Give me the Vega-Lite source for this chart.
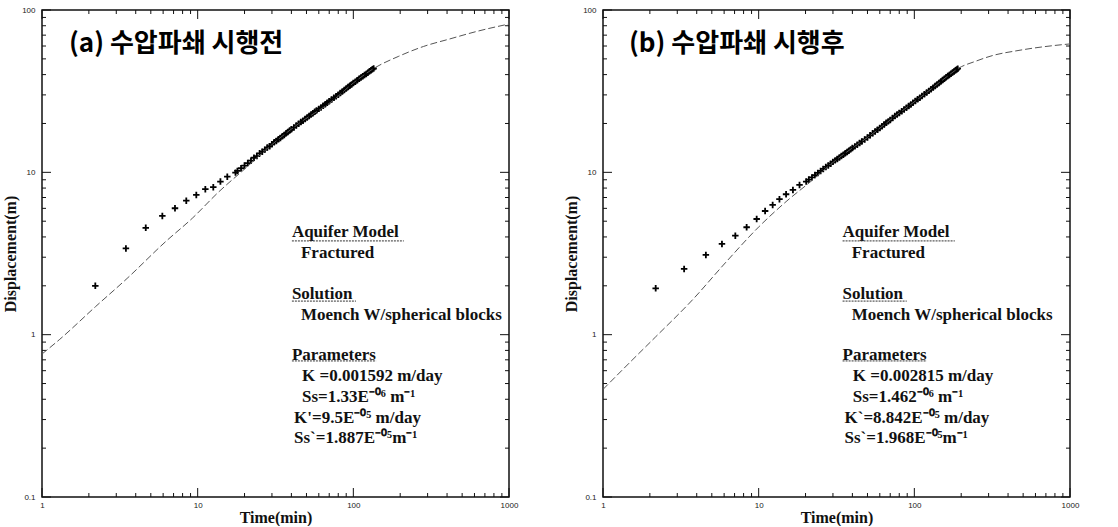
{
  "$schema": "https://vega.github.io/schema/vega-lite/v6.json",
  "background": "white",
  "padding": {"left": 1, "top": 5, "right": 5, "bottom": 0},
  "spacing": 43,
  "datasets": {
    "ticksX": [
      {"v": 1, "kind": "major"}, {"v": 2, "kind": "minor"}, {"v": 3, "kind": "minor"}, {"v": 4, "kind": "minor"}, {"v": 5, "kind": "minor"}, {"v": 6, "kind": "minor"}, {"v": 7, "kind": "minor"}, {"v": 8, "kind": "minor"}, {"v": 9, "kind": "minor"},
      {"v": 10, "kind": "major"}, {"v": 20, "kind": "minor"}, {"v": 30, "kind": "minor"}, {"v": 40, "kind": "minor"}, {"v": 50, "kind": "minor"}, {"v": 60, "kind": "minor"}, {"v": 70, "kind": "minor"}, {"v": 80, "kind": "minor"}, {"v": 90, "kind": "minor"},
      {"v": 100, "kind": "major"}, {"v": 200, "kind": "minor"}, {"v": 300, "kind": "minor"}, {"v": 400, "kind": "minor"}, {"v": 500, "kind": "minor"}, {"v": 600, "kind": "minor"}, {"v": 700, "kind": "minor"}, {"v": 800, "kind": "minor"}, {"v": 900, "kind": "minor"},
      {"v": 1000, "kind": "major"}
    ],
    "ticksY": [
      {"v": 0.1, "kind": "major"}, {"v": 0.2, "kind": "minor"}, {"v": 0.3, "kind": "minor"}, {"v": 0.4, "kind": "minor"}, {"v": 0.5, "kind": "minor"}, {"v": 0.6, "kind": "minor"}, {"v": 0.7, "kind": "minor"}, {"v": 0.8, "kind": "minor"}, {"v": 0.9, "kind": "minor"},
      {"v": 1, "kind": "major"}, {"v": 2, "kind": "minor"}, {"v": 3, "kind": "minor"}, {"v": 4, "kind": "minor"}, {"v": 5, "kind": "minor"}, {"v": 6, "kind": "minor"}, {"v": 7, "kind": "minor"}, {"v": 8, "kind": "minor"}, {"v": 9, "kind": "minor"},
      {"v": 10, "kind": "major"}, {"v": 20, "kind": "minor"}, {"v": 30, "kind": "minor"}, {"v": 40, "kind": "minor"}, {"v": 50, "kind": "minor"}, {"v": 60, "kind": "minor"}, {"v": 70, "kind": "minor"}, {"v": 80, "kind": "minor"}, {"v": 90, "kind": "minor"},
      {"v": 100, "kind": "major"}
    ],
    "curveA": [
      {"t": 1, "d": 0.76}, {"t": 1.29, "d": 0.93}, {"t": 2.21, "d": 1.49}, {"t": 3.52, "d": 2.22},
      {"t": 6.22, "d": 3.74}, {"t": 9.23, "d": 5.21}, {"t": 13.7, "d": 7.6}, {"t": 20.3, "d": 10.6},
      {"t": 28.2, "d": 14.1}, {"t": 44.7, "d": 20.0}, {"t": 73.3, "d": 27.5}, {"t": 100, "d": 35.5},
      {"t": 135, "d": 43.6}, {"t": 196, "d": 51.9}, {"t": 282, "d": 59.6}, {"t": 411, "d": 66.1},
      {"t": 631, "d": 74.1}, {"t": 1000, "d": 82}
    ],
    "pointsA": [
      {"t": 2.2, "d": 2.0}, {"t": 3.46, "d": 3.4}, {"t": 4.64, "d": 4.55}, {"t": 5.93, "d": 5.39},
      {"t": 7.15, "d": 6.01}, {"t": 8.45, "d": 6.69}, {"t": 9.8, "d": 7.26}, {"t": 11.2, "d": 7.87},
      {"t": 12.6, "d": 8.1}, {"t": 14.0, "d": 8.77}, {"t": 15.5, "d": 9.4}, {"t": 17.5, "d": 9.96},
      {"t": 18, "d": 10.2}, {"t": 19, "d": 10.6}, {"t": 20, "d": 11.0}, {"t": 21, "d": 11.4},
      {"t": 22, "d": 11.8}, {"t": 23, "d": 12.3}, {"t": 24, "d": 12.6}, {"t": 25, "d": 13.1},
      {"t": 26, "d": 13.4}, {"t": 27, "d": 13.8}, {"t": 28, "d": 14.2}, {"t": 29, "d": 14.5}, {"t": 30, "d": 14.9},
      {"t": 31, "d": 15.3}, {"t": 32, "d": 15.6}, {"t": 33, "d": 16.0}, {"t": 34, "d": 16.3}, {"t": 35, "d": 16.7}, {"t": 36, "d": 17.0},
      {"t": 37, "d": 17.4}, {"t": 38, "d": 17.7}, {"t": 39, "d": 18.1},
      {"t": 40, "d": 18.4}, {"t": 41.5, "d": 18.9}, {"t": 43, "d": 19.4}, {"t": 44.5, "d": 19.9}, {"t": 46, "d": 20.4}, {"t": 47.5, "d": 20.8}, {"t": 49, "d": 21.3},
      {"t": 50.5, "d": 21.8}, {"t": 52, "d": 22.2}, {"t": 53.5, "d": 22.7}, {"t": 55, "d": 23.1}, {"t": 56.5, "d": 23.6}, {"t": 58, "d": 24.0}, {"t": 60, "d": 24.6}, {"t": 62, "d": 25.1},
      {"t": 64, "d": 25.7}, {"t": 66, "d": 26.3}, {"t": 68, "d": 26.8}, {"t": 70, "d": 27.4}, {"t": 72.5, "d": 28.1}, {"t": 75, "d": 28.8}, {"t": 77.5, "d": 29.4}, {"t": 80, "d": 30.1},
      {"t": 82.5, "d": 30.8}, {"t": 85, "d": 31.5}, {"t": 87.5, "d": 32.1}, {"t": 90, "d": 32.8}, {"t": 92.5, "d": 33.5}, {"t": 95, "d": 34.2}, {"t": 97.5, "d": 34.8}, {"t": 100, "d": 35.5},
      {"t": 103, "d": 36.2}, {"t": 106, "d": 36.9}, {"t": 109, "d": 37.7}, {"t": 112, "d": 38.4}, {"t": 115, "d": 39.1}, {"t": 118, "d": 39.8}, {"t": 121, "d": 40.4}, {"t": 124, "d": 41.1},
      {"t": 127, "d": 41.9}, {"t": 130, "d": 42.6}, {"t": 132.5, "d": 43.1}, {"t": 135, "d": 43.6}
    ],
    "curveB": [
      {"t": 1, "d": 0.46}, {"t": 1.5, "d": 0.68}, {"t": 2.18, "d": 0.97}, {"t": 3.76, "d": 1.64},
      {"t": 6.17, "d": 2.8}, {"t": 10.1, "d": 4.65}, {"t": 15, "d": 6.6}, {"t": 22.3, "d": 9.0},
      {"t": 30, "d": 11.5}, {"t": 40.3, "d": 14.2}, {"t": 50, "d": 16.4}, {"t": 80, "d": 23.2},
      {"t": 120, "d": 31.0}, {"t": 160, "d": 38.5}, {"t": 190, "d": 43.5}, {"t": 250, "d": 48.5},
      {"t": 320, "d": 52.5}, {"t": 450, "d": 56.0}, {"t": 579, "d": 58.2}, {"t": 800, "d": 60.5},
      {"t": 1000, "d": 61.8}
    ],
    "pointsB": [
      {"t": 2.18, "d": 1.93}, {"t": 3.32, "d": 2.54}, {"t": 4.58, "d": 3.1}, {"t": 5.81, "d": 3.62},
      {"t": 7.08, "d": 4.07}, {"t": 8.37, "d": 4.59}, {"t": 9.71, "d": 5.16}, {"t": 11.0, "d": 5.78},
      {"t": 12.3, "d": 6.3}, {"t": 13.6, "d": 6.83}, {"t": 15.0, "d": 7.33}, {"t": 16.6, "d": 7.79},
      {"t": 18.3, "d": 8.36}, {"t": 20.2, "d": 8.77}, {"t": 21, "d": 9.02}, {"t": 22, "d": 9.31},
      {"t": 23, "d": 9.62}, {"t": 24, "d": 9.91}, {"t": 25, "d": 10.2}, {"t": 26, "d": 10.5},
      {"t": 27, "d": 10.8}, {"t": 28, "d": 11.0}, {"t": 29, "d": 11.3}, {"t": 30, "d": 11.6}, {"t": 31, "d": 11.85}, {"t": 32, "d": 12.1},
      {"t": 33, "d": 12.35}, {"t": 34, "d": 12.6}, {"t": 35, "d": 12.85}, {"t": 36, "d": 13.1}, {"t": 37, "d": 13.35}, {"t": 38, "d": 13.6}, {"t": 39, "d": 13.85}, {"t": 40, "d": 14.1},
      {"t": 41.5, "d": 14.45}, {"t": 43, "d": 14.8}, {"t": 44.5, "d": 15.15}, {"t": 46, "d": 15.5}, {"t": 48, "d": 15.95}, {"t": 50, "d": 16.4}, {"t": 52, "d": 16.9}, {"t": 54, "d": 17.4},
      {"t": 56, "d": 17.85}, {"t": 58, "d": 18.3}, {"t": 60, "d": 18.75}, {"t": 62, "d": 19.2}, {"t": 64, "d": 19.7}, {"t": 66, "d": 20.2}, {"t": 68, "d": 20.6}, {"t": 70, "d": 21.0},
      {"t": 72.5, "d": 21.6}, {"t": 75, "d": 22.2}, {"t": 77.5, "d": 22.7}, {"t": 80, "d": 23.2}, {"t": 83, "d": 23.8}, {"t": 86, "d": 24.4}, {"t": 89, "d": 25.0}, {"t": 92, "d": 25.6},
      {"t": 95, "d": 26.2}, {"t": 98, "d": 26.8}, {"t": 101.5, "d": 27.5}, {"t": 105, "d": 28.2}, {"t": 108.5, "d": 28.85}, {"t": 112, "d": 29.5}, {"t": 116, "d": 30.25}, {"t": 120, "d": 31.0},
      {"t": 124, "d": 31.75}, {"t": 128, "d": 32.5}, {"t": 132, "d": 33.25}, {"t": 136, "d": 34.0}, {"t": 140, "d": 34.75}, {"t": 144, "d": 35.5}, {"t": 148, "d": 36.25}, {"t": 152, "d": 37.0},
      {"t": 156, "d": 37.75}, {"t": 160, "d": 38.5}, {"t": 164, "d": 39.15}, {"t": 168, "d": 39.8}, {"t": 172, "d": 40.5}, {"t": 176, "d": 41.2}, {"t": 180, "d": 41.85}, {"t": 184, "d": 42.5},
      {"t": 187, "d": 43.0}, {"t": 190, "d": 43.5}
    ],
    "notesA": [
      {"t": 40.3, "d": 4.29, "label": "Aquifer Model"},
      {"t": 46.1, "d": 3.19, "label": "Fractured"},
      {"t": 40.3, "d": 1.78, "label": "Solution"},
      {"t": 46.1, "d": 1.32, "label": "Moench W/spherical blocks"},
      {"t": 40.3, "d": 0.75, "label": "Parameters"},
      {"t": 46.8, "d": 0.557, "label": "K =0.001592 m/day"},
      {"t": 46.8, "d": 0.413, "label": "Ss=1.33E⁻⁰⁶ m⁻¹"},
      {"t": 41.6, "d": 0.307, "label": "K'=9.5E⁻⁰⁵ m/day"},
      {"t": 41.6, "d": 0.231, "label": "Ss`=1.887E⁻⁰⁵m⁻¹"}
    ],
    "notesB": [
      {"t": 34.6, "d": 4.29, "label": "Aquifer Model"},
      {"t": 39.6, "d": 3.19, "label": "Fractured"},
      {"t": 34.6, "d": 1.78, "label": "Solution"},
      {"t": 39.6, "d": 1.32, "label": "Moench W/spherical blocks"},
      {"t": 34.6, "d": 0.75, "label": "Parameters"},
      {"t": 40.2, "d": 0.557, "label": "K =0.002815 m/day"},
      {"t": 40.2, "d": 0.413, "label": "Ss=1.462⁻⁰⁶ m⁻¹"},
      {"t": 35.6, "d": 0.307, "label": "K`=8.842E⁻⁰⁵ m/day"},
      {"t": 35.6, "d": 0.231, "label": "Ss`=1.968E⁻⁰⁵m⁻¹"}
    ],
    "underA": [
      {"t": 40.3, "t2": 211, "d": 3.78},
      {"t": 40.3, "t2": 104, "d": 1.61},
      {"t": 40.3, "t2": 140, "d": 0.689}
    ],
    "underB": [
      {"t": 34.6, "t2": 182, "d": 3.78},
      {"t": 34.6, "t2": 89.4, "d": 1.61},
      {"t": 34.6, "t2": 120, "d": 0.689}
    ],
    "headA": [{"t": 1.49, "d": 61.8, "label": "(a) 수압파쇄 시행전"}],
    "headB": [{"t": 1.47, "d": 61.8, "label": "(b) 수압파쇄 시행후"}]
  },
  "hconcat": [
    {
      "width": 467,
      "height": 487,
      "resolve": {"axis": {"x": "independent", "y": "independent"}},
      "layer": [
        {
          "data": {"name": "pointsA"},
          "mark": {"type": "point", "shape": "M-1,0L1,0M0,-1L0,1", "filled": false, "stroke": "#000", "strokeWidth": 1.8, "size": 42, "opacity": 1},
          "encoding": {
            "x": {"field": "t", "type": "quantitative", "scale": {"type": "log", "domain": [1, 1000], "nice": false},
              "axis": {"orient": "bottom", "values": [1, 10, 100, 1000], "ticks": false, "format": "~g", "labelPadding": 4, "labelFlush": false, "labelOverlap": false, "title": "Time(min)", "titlePadding": 0}},
            "y": {"field": "d", "type": "quantitative", "scale": {"type": "log", "domain": [0.1, 100], "nice": false},
              "axis": {"orient": "left", "values": [0.1, 1, 10, 100], "ticks": false, "format": "~g", "labelPadding": 7, "labelOverlap": false, "title": "Displacement(m)", "titlePadding": 3}}
          }
        },
        {"data": {"name": "ticksX"}, "transform": [{"filter": "datum.kind == 'minor'"}],
         "mark": {"type": "tick", "orient": "vertical", "size": 4, "thickness": 1, "color": "#111", "opacity": 1, "yOffset": -2},
         "encoding": {"x": {"field": "v", "type": "quantitative", "axis": null}, "y": {"datum": 0.1, "type": "quantitative", "axis": null}}},
        {"data": {"name": "ticksX"}, "transform": [{"filter": "datum.kind == 'major'"}],
         "mark": {"type": "tick", "orient": "vertical", "size": 9, "thickness": 1, "color": "#111", "opacity": 1, "yOffset": -4.5},
         "encoding": {"x": {"field": "v", "type": "quantitative", "axis": null}, "y": {"datum": 0.1, "type": "quantitative", "axis": null}}},
        {"data": {"name": "ticksX"}, "transform": [{"filter": "datum.kind == 'minor'"}],
         "mark": {"type": "tick", "orient": "vertical", "size": 4, "thickness": 1, "color": "#111", "opacity": 1, "yOffset": 2},
         "encoding": {"x": {"field": "v", "type": "quantitative", "axis": null}, "y": {"datum": 100, "type": "quantitative", "axis": null}}},
        {"data": {"name": "ticksX"}, "transform": [{"filter": "datum.kind == 'major'"}],
         "mark": {"type": "tick", "orient": "vertical", "size": 9, "thickness": 1, "color": "#111", "opacity": 1, "yOffset": 4.5},
         "encoding": {"x": {"field": "v", "type": "quantitative", "axis": null}, "y": {"datum": 100, "type": "quantitative", "axis": null}}},
        {"data": {"name": "ticksY"}, "transform": [{"filter": "datum.kind == 'minor'"}],
         "mark": {"type": "tick", "orient": "horizontal", "size": 4, "thickness": 1, "color": "#111", "opacity": 1, "xOffset": 2},
         "encoding": {"y": {"field": "v", "type": "quantitative", "axis": null}, "x": {"datum": 1, "type": "quantitative", "axis": null}}},
        {"data": {"name": "ticksY"}, "transform": [{"filter": "datum.kind == 'major'"}],
         "mark": {"type": "tick", "orient": "horizontal", "size": 9, "thickness": 1, "color": "#111", "opacity": 1, "xOffset": 4.5},
         "encoding": {"y": {"field": "v", "type": "quantitative", "axis": null}, "x": {"datum": 1, "type": "quantitative", "axis": null}}},
        {"data": {"name": "ticksY"}, "transform": [{"filter": "datum.kind == 'minor'"}],
         "mark": {"type": "tick", "orient": "horizontal", "size": 4, "thickness": 1, "color": "#111", "opacity": 1, "xOffset": -2},
         "encoding": {"y": {"field": "v", "type": "quantitative", "axis": null}, "x": {"datum": 1000, "type": "quantitative", "axis": null}}},
        {"data": {"name": "ticksY"}, "transform": [{"filter": "datum.kind == 'major'"}],
         "mark": {"type": "tick", "orient": "horizontal", "size": 9, "thickness": 1, "color": "#111", "opacity": 1, "xOffset": -4.5},
         "encoding": {"y": {"field": "v", "type": "quantitative", "axis": null}, "x": {"datum": 1000, "type": "quantitative", "axis": null}}},
        {
          "data": {"name": "curveA"},
          "mark": {"type": "line", "color": "#555", "strokeWidth": 1, "strokeDash": [7, 3], "interpolate": "monotone"},
          "encoding": {
            "x": {"field": "t", "type": "quantitative", "axis": null},
            "y": {"field": "d", "type": "quantitative", "axis": null}
          }
        },
        {
          "data": {"name": "notesA"},
          "mark": {"type": "text", "align": "left", "baseline": "middle", "font": "Liberation Serif", "fontSize": 17, "fontWeight": "bold", "color": "#111"},
          "encoding": {
            "x": {"field": "t", "type": "quantitative", "axis": null},
            "y": {"field": "d", "type": "quantitative", "axis": null},
            "text": {"field": "label", "type": "nominal"}
          }
        },
        {
          "data": {"name": "underA"},
          "mark": {"type": "rule", "color": "#333", "strokeWidth": 1, "strokeDash": [2, 1]},
          "encoding": {
            "x": {"field": "t", "type": "quantitative", "axis": null},
            "x2": {"field": "t2"},
            "y": {"field": "d", "type": "quantitative", "axis": null}
          }
        },
        {
          "data": {"name": "headA"},
          "mark": {"type": "text", "align": "left", "baseline": "middle", "font": "Noto Sans CJK KR", "fontSize": 26, "fontWeight": "bold", "color": "#000"},
          "encoding": {
            "x": {"field": "t", "type": "quantitative", "axis": null},
            "y": {"field": "d", "type": "quantitative", "axis": null},
            "text": {"field": "label", "type": "nominal"}
          }
        }
      ]
    },
    {
      "width": 467,
      "height": 487,
      "resolve": {"axis": {"x": "independent", "y": "independent"}},
      "layer": [
        {
          "data": {"name": "pointsB"},
          "mark": {"type": "point", "shape": "M-1,0L1,0M0,-1L0,1", "filled": false, "stroke": "#000", "strokeWidth": 1.8, "size": 42, "opacity": 1},
          "encoding": {
            "x": {"field": "t", "type": "quantitative", "scale": {"type": "log", "domain": [1, 1000], "nice": false},
              "axis": {"orient": "bottom", "values": [1, 10, 100, 1000], "ticks": false, "format": "~g", "labelPadding": 4, "labelFlush": false, "labelOverlap": false, "title": "Time(min)", "titlePadding": 0}},
            "y": {"field": "d", "type": "quantitative", "scale": {"type": "log", "domain": [0.1, 100], "nice": false},
              "axis": {"orient": "left", "values": [0.1, 1, 10, 100], "ticks": false, "format": "~g", "labelPadding": 7, "labelOverlap": false, "title": "Displacement(m)", "titlePadding": 3}}
          }
        },
        {"data": {"name": "ticksX"}, "transform": [{"filter": "datum.kind == 'minor'"}],
         "mark": {"type": "tick", "orient": "vertical", "size": 4, "thickness": 1, "color": "#111", "opacity": 1, "yOffset": -2},
         "encoding": {"x": {"field": "v", "type": "quantitative", "axis": null}, "y": {"datum": 0.1, "type": "quantitative", "axis": null}}},
        {"data": {"name": "ticksX"}, "transform": [{"filter": "datum.kind == 'major'"}],
         "mark": {"type": "tick", "orient": "vertical", "size": 9, "thickness": 1, "color": "#111", "opacity": 1, "yOffset": -4.5},
         "encoding": {"x": {"field": "v", "type": "quantitative", "axis": null}, "y": {"datum": 0.1, "type": "quantitative", "axis": null}}},
        {"data": {"name": "ticksX"}, "transform": [{"filter": "datum.kind == 'minor'"}],
         "mark": {"type": "tick", "orient": "vertical", "size": 4, "thickness": 1, "color": "#111", "opacity": 1, "yOffset": 2},
         "encoding": {"x": {"field": "v", "type": "quantitative", "axis": null}, "y": {"datum": 100, "type": "quantitative", "axis": null}}},
        {"data": {"name": "ticksX"}, "transform": [{"filter": "datum.kind == 'major'"}],
         "mark": {"type": "tick", "orient": "vertical", "size": 9, "thickness": 1, "color": "#111", "opacity": 1, "yOffset": 4.5},
         "encoding": {"x": {"field": "v", "type": "quantitative", "axis": null}, "y": {"datum": 100, "type": "quantitative", "axis": null}}},
        {"data": {"name": "ticksY"}, "transform": [{"filter": "datum.kind == 'minor'"}],
         "mark": {"type": "tick", "orient": "horizontal", "size": 4, "thickness": 1, "color": "#111", "opacity": 1, "xOffset": 2},
         "encoding": {"y": {"field": "v", "type": "quantitative", "axis": null}, "x": {"datum": 1, "type": "quantitative", "axis": null}}},
        {"data": {"name": "ticksY"}, "transform": [{"filter": "datum.kind == 'major'"}],
         "mark": {"type": "tick", "orient": "horizontal", "size": 9, "thickness": 1, "color": "#111", "opacity": 1, "xOffset": 4.5},
         "encoding": {"y": {"field": "v", "type": "quantitative", "axis": null}, "x": {"datum": 1, "type": "quantitative", "axis": null}}},
        {"data": {"name": "ticksY"}, "transform": [{"filter": "datum.kind == 'minor'"}],
         "mark": {"type": "tick", "orient": "horizontal", "size": 4, "thickness": 1, "color": "#111", "opacity": 1, "xOffset": -2},
         "encoding": {"y": {"field": "v", "type": "quantitative", "axis": null}, "x": {"datum": 1000, "type": "quantitative", "axis": null}}},
        {"data": {"name": "ticksY"}, "transform": [{"filter": "datum.kind == 'major'"}],
         "mark": {"type": "tick", "orient": "horizontal", "size": 9, "thickness": 1, "color": "#111", "opacity": 1, "xOffset": -4.5},
         "encoding": {"y": {"field": "v", "type": "quantitative", "axis": null}, "x": {"datum": 1000, "type": "quantitative", "axis": null}}},
        {
          "data": {"name": "curveB"},
          "mark": {"type": "line", "color": "#555", "strokeWidth": 1, "strokeDash": [7, 3], "interpolate": "monotone"},
          "encoding": {
            "x": {"field": "t", "type": "quantitative", "axis": null},
            "y": {"field": "d", "type": "quantitative", "axis": null}
          }
        },
        {
          "data": {"name": "notesB"},
          "mark": {"type": "text", "align": "left", "baseline": "middle", "font": "Liberation Serif", "fontSize": 17, "fontWeight": "bold", "color": "#111"},
          "encoding": {
            "x": {"field": "t", "type": "quantitative", "axis": null},
            "y": {"field": "d", "type": "quantitative", "axis": null},
            "text": {"field": "label", "type": "nominal"}
          }
        },
        {
          "data": {"name": "underB"},
          "mark": {"type": "rule", "color": "#333", "strokeWidth": 1, "strokeDash": [2, 1]},
          "encoding": {
            "x": {"field": "t", "type": "quantitative", "axis": null},
            "x2": {"field": "t2"},
            "y": {"field": "d", "type": "quantitative", "axis": null}
          }
        },
        {
          "data": {"name": "headB"},
          "mark": {"type": "text", "align": "left", "baseline": "middle", "font": "Noto Sans CJK KR", "fontSize": 26, "fontWeight": "bold", "color": "#000"},
          "encoding": {
            "x": {"field": "t", "type": "quantitative", "axis": null},
            "y": {"field": "d", "type": "quantitative", "axis": null},
            "text": {"field": "label", "type": "nominal"}
          }
        }
      ]
    }
  ],
  "config": {
    "view": {"stroke": "#111", "strokeWidth": 1.5},
    "axis": {
      "domain": false, "grid": false,
      "labelFont": "Liberation Sans", "labelFontSize": 8, "labelColor": "#222",
      "titleFont": "Liberation Serif", "titleFontWeight": "bold", "titleFontSize": 16, "titleColor": "#111"
    }
  }
}
